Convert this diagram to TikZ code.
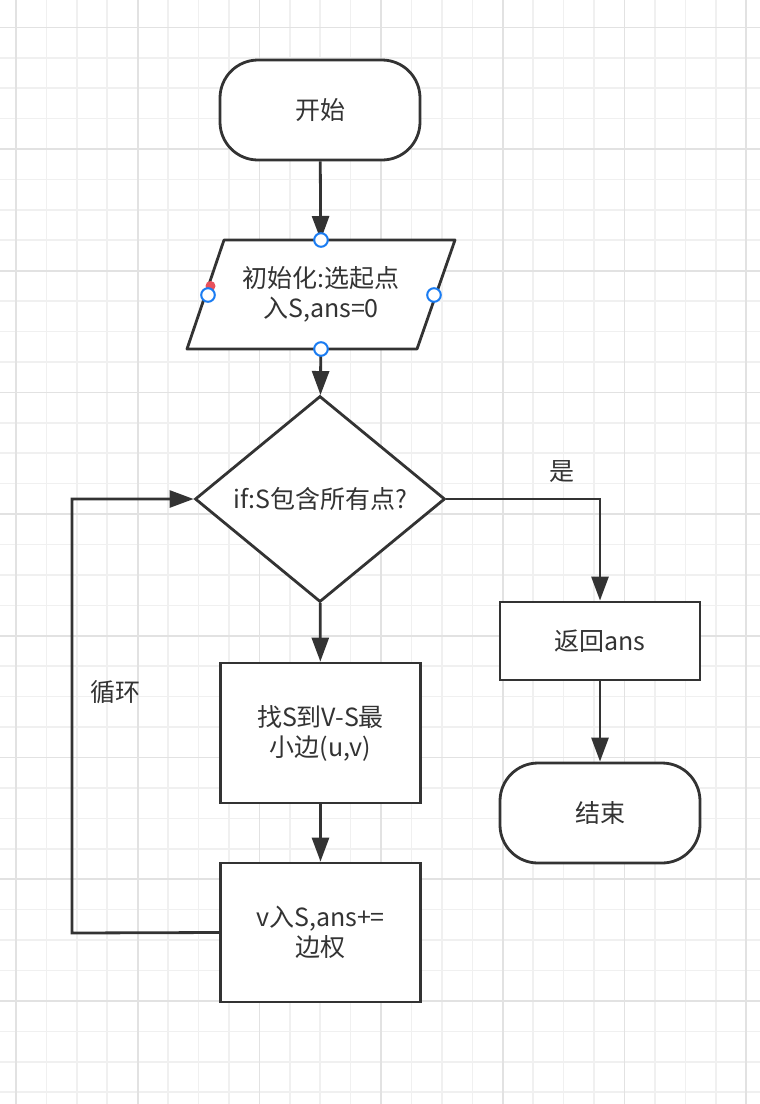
\documentclass[tikz,border=0pt]{standalone}
\usepackage{fontspec}
\setmainfont{Noto Sans CJK SC}
\usetikzlibrary{arrows.meta,shapes.geometric}
\definecolor{ink}{HTML}{333333}
\definecolor{gridminor}{HTML}{F0F0F0}
\definecolor{gridmajor}{HTML}{E2E2E2}
\definecolor{handle}{HTML}{1A7CF2}
\definecolor{hot}{HTML}{E8505B}
\tikzset{
	box/.style={draw=ink, line width=2.8pt, fill=white, text=ink, align=center,
		inner sep=0pt, minimum width=200pt, font=\fontsize{25}{30}\selectfont},
	terminal/.style={box, rounded corners=38pt, minimum height=100pt},
	process/.style={box, minimum height=140pt},
	inout/.style={text=ink, align=center, inner sep=0pt, outer sep=0pt,
		minimum width=231pt, minimum height=109pt, font=\fontsize{25}{30}\selectfont},
	decision/.style={box, diamond, minimum width=250pt, minimum height=206pt},
	flow/.style={draw=ink, line width=2.8pt, -{Triangle[length=24pt,width=17pt]}},
	lbl/.style={text=ink, font=\fontsize{25}{30}\selectfont, inner sep=0pt},
}
\begin{document}
\begin{tikzpicture}[x=1pt,y=-1pt]
	\useasboundingbox (0,0) rectangle (760,1104);
	\fill[white] (0,0) rectangle (760,1104);
	% grid
	\foreach \k in {0,...,24}
	\draw[gridminor, line width=1.6pt] ({16+30.425*\k},0) -- ({16+30.425*\k},1104);
	\foreach \k in {0,...,35}
	\draw[gridminor, line width=1.6pt] (0,{27.3+30.425*\k}) -- (760,{27.3+30.425*\k});
	\foreach \k in {0,4,...,24}
	\draw[gridmajor, line width=1.6pt] ({16+30.425*\k},0) -- ({16+30.425*\k},1104);
	\foreach \k in {0,4,...,32}
	\draw[gridmajor, line width=1.6pt] (0,{27.3+30.425*\k}) -- (760,{27.3+30.425*\k});
	
	% shapes
	\node[terminal] (start) at (320,110) {开始};
	\draw[ink, line width=2.8pt, fill=white, line join=round]
		(187,349) -- (417,349) -- (455,240) -- (224,240) -- cycle;
	\node[inout] (init) at (321,294.5) {初始化:选起点\\入S,ans=0};
	\node[decision] (check) at (320,499) {if:S包含所有点?};
	\node[process] (find) at (320.5,733) {找S到V-S最\\小边(u,v)};
	\node[process, minimum height=139pt] (add) at (320.5,932.5) {v入S,ans+=\\边权};
	\node[box, minimum height=78pt] (ret) at (600,641) {返回ans};
	\node[terminal] (stop) at (600,813) {结束};
	
	% connectors
	\draw[flow] (start) -- (init);
	\draw[flow] (init) -- (check);
	\draw[flow] (check) -- (find);
	\draw[flow] (find) -- (add);
	\draw[flow] (check.east) -| (ret.north);
	\draw[flow] (ret) -- (stop);
	\coordinate (loop) at (72,933);
	\draw[flow] (add.west) -- (loop) |- (check.west);
	
	\node[lbl] (yes) at (562,472) {是};
	\node[lbl] (again) at (115,692) {循环};
	
	% selection handles
	\coordinate (initw) at (208,295);
	\coordinate (inite) at (434,295);
	\fill[hot] (210.5,286) circle (5pt);
	\foreach \p in {init.north,init.south,initw,inite}
	\draw[handle, fill=white, line width=2pt] (\p) circle (6.8pt);
\end{tikzpicture}
\end{document}
